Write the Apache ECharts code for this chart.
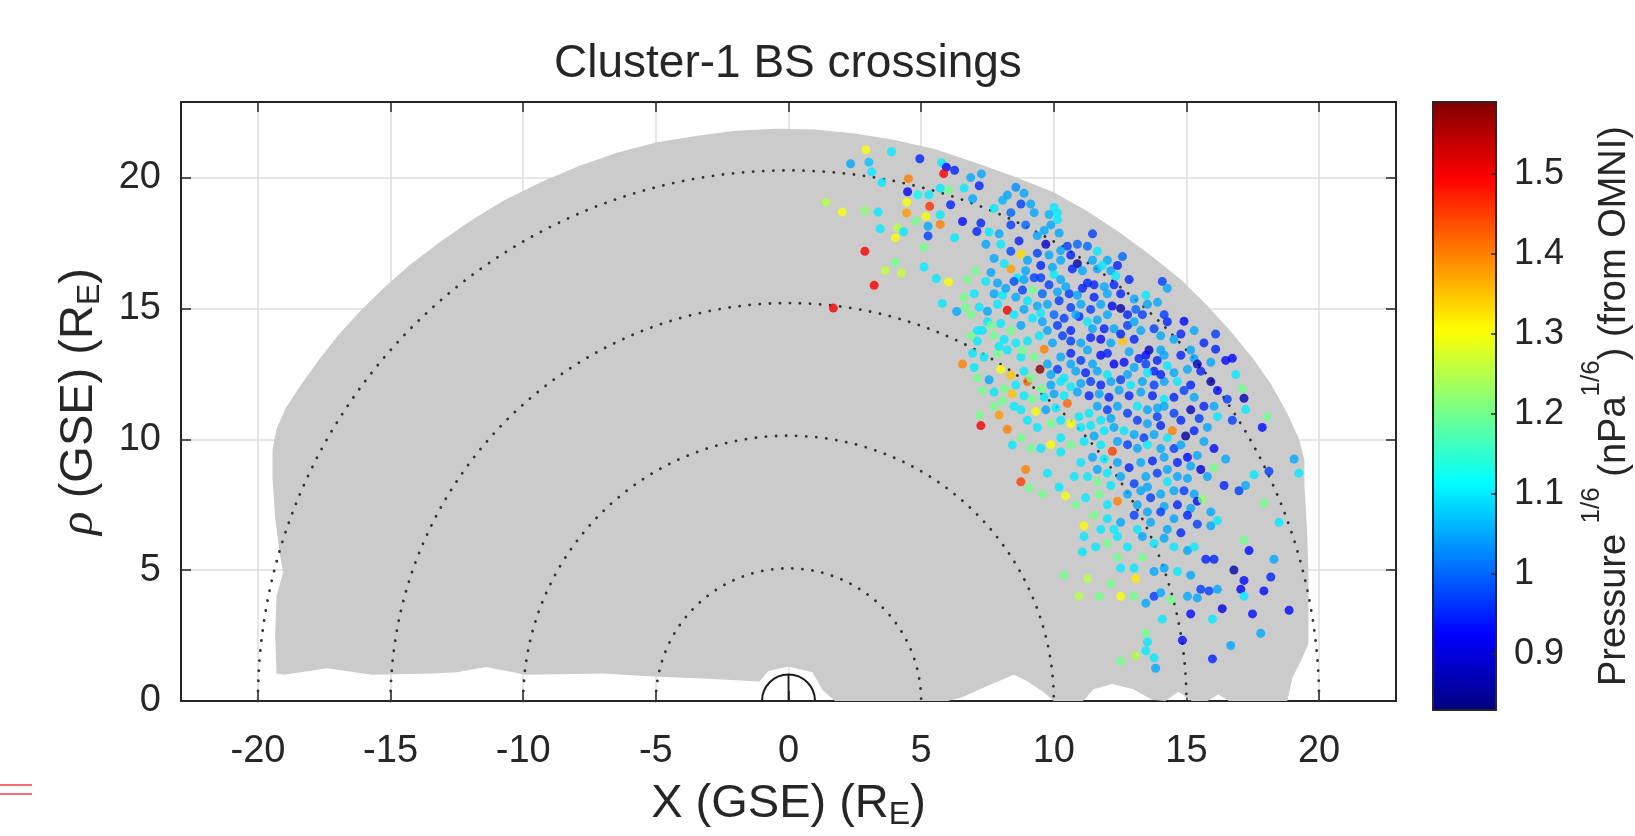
<!DOCTYPE html>
<html lang="en" style="height: 100%">

<head>
  <meta charset="utf-8">
</head>

<body style="height: 100%; margin: 0">
  <div id="container" style="width: 1635px; height: 836px"></div>

  <script type="text/javascript" src="https://fastly.jsdelivr.net/npm/echarts@6.0.0/dist/echarts.min.js"></script>
  <script type="text/javascript">
    // bow shock crossings: [X (RE), rho (RE), pressure^(1/6)]
    var crossings = [
      [2.92,21.07,1.30],[3.88,21.0,1.10],[4.95,20.73,0.95],[2.34,20.54,1.05],[3.03,20.6,1.07],[3.14,20.23,1.10],
      [5.77,20.58,1.10],[5.95,20.41,0.93],[6.26,20.29,0.95],[5.85,20.16,1.50],[4.52,19.97,1.40],[3.52,19.82,1.10],
      [4.49,19.47,0.92],[4.88,19.35,1.12],[5.29,19.35,1.10],[6.03,19.54,1.20],[5.72,19.6,1.10],[1.42,19.07,1.25],
      [2.03,18.69,1.30],[2.88,18.74,1.22],[3.38,18.69,1.10],[4.46,19.07,1.30],[5.32,18.91,1.46],[4.45,18.66,1.38],
      [5.18,18.53,1.30],[5.72,18.59,1.10],[6.11,18.97,0.95],[3.46,18.05,1.10],[4.11,18.09,1.25],[4.03,17.71,1.30],
      [4.34,17.94,1.10],[4.8,18.34,1.20],[5.26,18.15,1.05],[5.26,17.78,0.97],[5.72,18.22,1.40],[6.26,17.71,1.10],
      [5.11,17.34,1.20],[2.88,17.19,1.50],[4.03,16.77,1.20],[3.65,16.46,1.26],[4.26,16.36,1.26],[5.11,16.59,1.10],
      [3.23,15.89,1.50],[5.57,16.15,1.10],[6.03,16.02,1.30],[1.69,15.02,1.50],[5.8,15.2,1.10],[6.34,14.89,1.05],
      [7.27,20.15,1.05],[6.87,20.01,1.05],[7.19,19.70,0.95],[6.62,19.61,1.10],[6.94,19.20,1.05],[6.56,18.33,0.93],
      [8.57,19.64,1.03],[8.88,19.41,1.05],[8.25,19.34,1.05],[8.07,19.14,1.06],[8.76,19.00,0.97],[9.13,19.00,1.05],
      [7.75,18.83,1.10],[8.38,18.67,1.00],[9.26,18.67,1.05],[10.01,18.87,1.10],[10.14,18.67,1.10],[9.82,18.60,1.06],
      [7.25,18.27,0.95],[8.38,18.20,0.97],[8.94,18.20,1.00],[9.89,18.20,1.05],[10.14,18.40,1.10],[7.56,17.93,1.10],
      [7.94,17.86,1.05],[7.10,17.95,0.95],[8.69,17.59,0.95],[9.70,17.46,0.88],[9.38,17.79,1.05],[9.64,17.99,1.05],
      [10.20,17.89,1.05],[11.46,17.86,0.97],[10.51,17.39,0.97],[10.89,17.46,1.00],[11.27,17.39,1.00],[11.64,17.19,1.10],
      [7.44,17.46,1.05],[8.00,17.46,1.10],[8.76,17.08,1.33],[8.38,17.19,0.98],[9.38,17.12,0.97],[9.82,17.05,1.05],
      [12.59,16.99,1.00],[12.02,16.85,1.05],[7.75,16.92,1.05],[7.06,16.45,1.20],[8.38,16.52,1.38],[8.13,16.72,1.10],
      [9.01,16.85,1.05],[10.26,16.85,1.05],[10.89,16.72,0.86],[10.70,16.52,0.95],[11.08,16.45,1.05],[11.64,16.52,1.05],
      [12.15,16.45,1.05],[12.34,16.25,1.10],
      [10.26,17.22,1.05],[10.64,17.05,0.95],[11.46,16.85,1.05],[11.83,16.65,1.10],[12.40,16.65,0.95],[9.51,16.65,0.95],
      [9.95,16.58,1.05],[8.94,16.45,1.05],[8.63,16.18,1.10],[7.63,16.38,1.05],
      [6.75,16.11,1.20],[7.44,16.04,1.10],[7.88,15.98,1.05],[8.50,16.04,0.98],[8.88,16.11,1.05],[9.26,16.18,0.97],
      [9.51,16.18,0.97],[10.01,16.31,1.10],[10.26,16.11,1.05],[11.27,15.98,0.95],[11.52,15.91,0.95],[11.90,15.84,1.05],
      [12.84,16.11,0.95],[14.09,16.04,0.97],[14.28,15.78,1.05],[12.27,15.91,0.95],[13.47,15.51,1.10],[6.62,15.44,1.20],
      [7.00,15.57,1.10],[7.75,15.57,1.05],[8.07,15.51,1.10],[8.57,15.44,1.05],[9.20,15.71,1.20],[9.57,15.57,1.00],
      [10.14,15.64,1.05],[10.58,15.57,0.97],[10.89,15.51,1.05],[11.52,15.44,0.95],[12.02,15.57,1.05],[8.25,14.94,1.50],
      [6.68,15.04,1.20],[7.19,15.06,1.10],[7.50,14.90,1.05],[7.88,15.17,1.10],[9.01,15.30,1.10],[9.38,15.10,1.05],
      [9.76,15.17,1.05],[10.20,15.30,0.97],[10.64,15.04,0.97],[11.02,15.17,1.05],[11.39,14.97,0.97],[11.77,15.17,1.05],
      [12.52,15.01,0.86],[12.20,15.10,0.92],[13.09,14.97,1.00],[13.34,14.77,0.97],[14.91,14.52,0.93],
      [8.19,15.78,1.05],[8.82,15.71,0.97],[9.82,15.91,0.97],[10.45,15.84,1.05],[11.08,15.78,0.95],[12.52,15.57,0.95],
      [13.03,15.37,1.05],[13.91,15.24,1.05],[6.87,14.77,1.20],[8.50,14.77,1.10],[8.88,14.97,1.05],[9.51,14.83,1.10],
      [10.95,14.70,0.95],[12.02,14.77,1.05],[12.78,14.77,0.95],[13.53,15.17,1.05],[14.16,14.77,0.97],
      [7.12,14.16,1.10],[7.50,14.50,1.10],[7.63,14.36,1.20],[8.00,14.43,1.10],[8.38,14.16,1.20],[8.76,14.36,1.05],
      [9.20,14.63,1.10],[9.57,14.50,1.05],[10.01,14.77,1.00],[10.39,14.63,0.97],[10.83,14.77,1.05],[11.27,14.50,1.10],
      [11.64,14.57,1.05],[11.90,14.23,0.95],[12.27,14.23,1.05],[12.78,14.36,0.97],[13.28,14.16,1.05],[13.78,14.23,0.97],
      [7.12,13.76,1.10],[7.75,13.96,1.20],[8.13,13.82,1.10],[8.57,13.69,1.10],[9.01,13.76,1.10],[9.64,13.45,1.40],
      [9.95,13.69,1.05],[10.33,13.96,0.97],[10.64,13.76,0.97],[11.02,13.69,1.05],[11.39,13.89,0.95],[11.77,13.83,0.93],
      [12.15,13.69,1.05],[12.59,13.76,1.35],[13.03,13.83,0.95],[13.59,13.42,0.87],[13.47,13.22,0.93],[14.03,13.42,1.05],
      [14.53,13.83,1.05],[14.79,14.03,0.95],[16.10,14.03,0.97],[16.10,13.45,0.95],[16.48,13.02,0.93],[16.73,13.10,0.93],
      [16.86,12.48,1.10],[15.92,12.95,1.05],[6.56,12.88,1.40],[6.94,13.29,1.10],[7.37,13.15,1.10],[7.88,13.29,1.20],
      [8.25,13.42,1.10],[8.76,13.15,1.10],[9.26,13.15,1.20],
      [6.87,13.96,1.20],[7.31,14.16,1.10],[9.76,14.16,1.05],[10.14,14.36,0.97],[10.64,14.16,0.95],[11.46,14.23,1.05],
      [12.52,14.03,0.95],[13.03,14.50,1.05],[14.03,13.96,1.05],[14.28,14.50,0.95],[15.29,14.16,1.05],[15.66,13.69,0.95],
      [15.16,13.42,1.05],[9.45,13.96,1.10],[7.94,13.56,1.10],[8.82,13.42,1.20],
      [9.48,12.68,1.58],[8.00,12.68,1.30],[8.38,12.45,1.35],[9.01,12.21,1.42],[7.56,12.28,1.05],[7.31,11.87,1.20],
      [7.75,11.81,1.10],[8.13,11.94,1.20],[8.57,12.08,1.10],[9.76,12.88,1.05],[10.14,12.68,0.97],[10.64,12.88,1.05],
      [11.02,13.02,0.97],[11.46,12.88,1.05],[11.77,13.22,0.93],[12.27,12.88,0.92],[12.65,12.95,0.93],[13.03,12.75,1.05],
      [13.47,12.88,0.97],[13.90,13.02,0.95],[14.28,12.82,1.10],[14.53,12.55,1.05],[15.04,12.68,1.05],[15.92,12.21,0.86],
      [16.17,11.87,0.93],[16.54,11.54,0.97],[17.17,11.57,0.87],[17.11,11.94,1.20],[17.23,11.14,1.10],[15.16,12.08,0.95],
      [14.91,11.87,0.97],[14.66,12.21,1.10],[14.16,12.21,1.05],[13.78,12.08,0.97],[13.34,12.21,1.05],[12.90,12.08,1.10],
      [12.52,12.28,0.97],[12.15,12.21,1.05],[11.77,12.08,0.95],[11.39,12.21,0.97],[11.02,12.14,1.05],[10.64,12.01,1.10],
      [10.26,12.21,1.10],[9.89,12.08,1.05],[9.51,11.94,1.20],[9.20,11.54,1.20],[8.88,11.67,1.10],[8.44,11.74,1.35],
      [10.51,11.38,1.42],[10.08,11.20,1.10],[9.70,11.13,1.05],[9.32,11.07,1.30],[8.76,11.13,1.10],
      [10.26,13.15,1.05],[10.64,13.29,0.95],[11.27,13.42,1.05],[12.02,13.29,0.95],[12.84,13.35,1.05],[13.21,13.09,0.95],
      [13.78,12.61,0.95],[14.16,13.22,1.05],[14.79,13.22,0.95],[15.29,13.09,1.05],[15.54,12.61,0.95],[15.41,12.88,0.88],
      [9.89,12.48,1.05],[10.39,12.35,1.10],[10.83,12.61,1.05],[11.20,12.55,0.95],[11.64,12.61,1.05],[12.02,12.48,1.10],
      [12.78,12.48,1.05],[13.53,12.55,1.10],[14.03,12.48,0.95],[8.88,12.61,1.10],[9.13,12.35,1.20],[7.12,12.35,1.20],
      [7.00,12.75,1.10],
      [8.07,11.47,1.20],[8.50,11.27,1.10],[9.64,11.61,1.10],[10.01,11.74,1.05],[10.39,11.67,1.10],[10.89,11.81,1.05],
      [11.33,11.67,0.95],[11.71,11.74,1.05],[12.08,11.61,0.95],[12.46,11.88,1.05],[12.84,11.67,0.95],[13.28,11.81,1.05],
      [13.72,11.67,0.95],[14.16,11.54,1.10],[14.53,11.61,0.95],[15.29,11.61,1.05],[15.66,11.27,0.95],[16.04,11.27,1.05],
      [13.91,11.20,1.05],[13.15,11.27,1.10],[12.15,10.80,1.05],[11.77,10.73,1.10],[11.39,10.53,1.10],[11.02,10.46,1.10],
      [10.26,10.73,1.10],[9.89,10.60,1.20],[9.38,10.46,1.10],[9.01,10.73,1.10],[7.75,11.27,1.20],
      [7.25,10.53,1.50],[7.19,10.93,1.20],[7.94,10.93,1.38],[8.25,10.39,1.40],[8.76,10.06,1.20],[9.51,9.66,1.10],
      [9.89,9.80,1.30],[10.26,10.06,1.10],[10.64,10.60,1.30],[10.95,10.87,1.10],[11.33,11.00,1.10],[11.64,11.27,1.05],
      [12.02,11.13,0.97],[12.40,11.27,1.05],[12.78,11.00,0.97],[13.15,10.73,0.97],[13.53,11.13,1.05],[13.90,10.87,0.97],
      [14.16,11.27,1.05],[14.53,11.00,0.97],[14.79,10.73,0.95],[15.16,11.13,0.88],[15.48,10.80,0.97],[15.79,10.46,1.05],
      [16.17,10.87,1.10],[16.73,10.73,0.97],[17.86,10.46,0.93],[18.05,10.87,1.20],[14.47,10.33,1.40],[14.97,10.13,0.85],
      [14.28,10.06,1.10],[13.78,10.19,1.05],[13.40,10.06,0.97],[13.03,10.19,1.05],[12.65,10.33,1.10],[12.27,10.46,1.05],
      [11.90,10.33,1.10],[11.52,10.13,1.05],[11.14,9.92,1.10],[10.64,9.80,1.20],[12.21,9.55,1.45],[12.78,9.80,0.97],
      [13.53,9.80,1.10],[14.03,9.65,1.05],[14.53,9.65,0.97],[15.04,9.32,0.93],[15.41,9.39,1.05],[16.04,9.65,0.93],
      [16.48,9.25,1.05],[19.06,9.25,1.05],[19.24,8.71,1.10],
      [13.53,10.60,1.05],[14.03,10.53,0.95],[15.29,10.33,0.95],[15.66,9.92,1.05],[14.79,9.79,1.05],[13.15,9.66,1.05],
      [12.40,9.92,1.05],[11.77,9.79,1.10],[10.26,9.52,1.10],[9.13,9.66,1.20],[8.44,9.79,1.10],
      [8.94,8.85,1.40],[8.76,8.38,1.45],[9.07,8.15,1.20],[10.20,8.18,1.10],[10.45,7.84,1.30],[10.77,8.58,1.10],
      [11.27,8.58,1.10],[11.64,8.85,1.05],[12.02,8.71,1.10],[12.52,8.58,1.05],[13.03,8.31,0.97],[13.47,8.58,1.05],
      [13.90,8.71,0.97],[14.28,8.85,1.05],[14.66,8.58,1.05],[15.16,8.98,1.05],[15.54,8.85,0.90],[15.79,8.58,1.05],
      [16.04,8.92,1.20],[16.42,8.24,0.95],[16.98,8.04,0.97],[17.23,8.24,1.05],[17.55,8.65,1.10],[18.11,8.78,0.97],
      [17.93,7.57,1.20],[18.49,6.83,1.10],[10.83,7.50,1.20],[11.20,7.77,1.10],[11.71,7.91,1.20],[12.40,7.64,1.40],
      [12.78,7.91,1.05],[13.28,8.04,1.05],[13.65,7.77,0.97],[14.03,7.91,1.05],[14.53,8.04,1.05],[14.91,8.04,0.97],
      [15.29,7.91,1.05],[15.41,7.64,0.93],[15.60,7.71,1.22],
      [11.02,9.12,1.10],[11.46,9.32,1.05],[11.90,9.25,1.10],[12.40,9.12,1.05],[12.84,8.92,0.95],[13.28,9.12,1.05],
      [13.72,9.18,0.95],[14.16,9.32,1.05],[14.66,9.12,0.95],[15.04,8.51,1.05],[14.28,8.38,1.10],[13.53,8.18,1.05],
      [12.15,8.24,1.10],[11.64,8.38,1.20],[9.76,8.71,1.10],[9.57,7.91,1.20],
      [12.02,7.50,1.10],[13.15,7.50,1.05],[14.16,7.44,1.05],[14.66,7.50,0.95],[15.16,7.37,1.05],[15.92,7.23,1.05],
      [13.65,6.83,1.05],[12.27,6.56,1.10],[11.77,6.56,1.10],[13.15,6.56,1.10],[14.28,6.56,1.05],[14.79,6.43,0.95],
      [11.14,6.70,1.30],[11.14,6.29,1.10],[11.52,7.10,1.20],[12.02,6.97,1.10],[12.52,6.83,1.05],[13.03,7.10,0.97],
      [13.53,7.23,1.05],[14.03,7.23,0.97],[14.53,6.97,1.05],[15.04,7.10,0.95],[15.41,6.76,0.97],[15.92,6.70,1.05],
      [16.17,6.90,1.10],[17.17,6.16,1.20],[17.36,5.75,0.93],[18.30,5.42,1.05],[11.58,5.89,1.10],[12.02,6.02,1.20],
      [12.40,6.29,1.10],[12.78,5.89,1.10],[13.34,6.29,1.05],[13.78,6.02,1.10],[14.16,6.22,1.05],[14.53,5.89,1.10],
      [15.04,5.75,1.05],[15.29,5.89,1.10],[15.73,5.42,0.95],[16.04,5.42,0.95],[11.08,5.70,1.10],
      [10.39,4.81,1.20],[11.27,4.68,1.25],[12.40,5.50,1.20],[12.52,5.08,1.10],[13.03,5.08,1.10],[13.09,4.68,1.32],
      [13.34,5.50,1.20],[13.78,4.95,1.05],[14.16,5.08,1.05],[14.66,4.95,1.10],[15.16,4.81,1.05],[15.54,4.27,0.97],
      [15.85,4.21,0.97],[16.17,4.27,1.05],[16.79,5.01,0.86],[17.17,4.61,0.93],[17.05,4.27,0.92],[17.17,4.00,1.10],
      [17.92,4.21,0.93],[18.18,4.74,0.95],[10.95,4.00,1.25],[11.71,4.00,1.20],[12.15,4.48,1.20],[12.52,4.00,1.30],
      [13.03,4.00,1.20],[13.47,3.74,1.05],[13.78,4.00,0.97],[14.03,4.14,1.05],[14.41,3.87,1.20],[15.04,4.00,1.05],
      [15.41,3.94,1.05],[15.16,3.33,0.93],[16.35,3.53,0.90],[15.98,3.13,1.10],[17.49,3.33,0.93],[18.87,3.47,0.93],
      [14.09,3.13,1.10],
      [17.80,2.59,1.05],[16.67,2.12,1.05],[13.47,2.59,1.20],[13.53,2.26,1.10],[13.47,1.92,1.10],[14.85,2.32,0.93],
      [12.52,1.52,1.20],[13.09,1.72,1.25],[13.78,1.65,1.10],[13.84,1.25,1.05],[15.98,1.61,0.95]
    ];

    // outline of the grey orbit coverage, [X, rho]
    var coverage = [
      [-19.3,1.05],[-19.35,2.5],[-19.3,4.0],[-19.05,4.9],[-19.2,5.8],[-19.35,7.0],[-19.45,8.5],[-19.45,9.6],
      [-19.3,10.4],[-18.95,11.2],[-18.4,12.05],[-17.7,13.05],[-17.0,13.95],[-16.2,14.85],[-15.3,15.75],
      [-14.3,16.65],[-13.2,17.5],[-12.0,18.35],[-10.7,19.15],[-9.3,19.85],[-7.9,20.45],[-6.5,20.95],[-5.0,21.35],
      [-3.5,21.6],[-2.0,21.8],[-0.5,21.88],[1.0,21.85],[2.5,21.7],[4.0,21.45],[5.5,21.1],[7.0,20.6],[8.5,20.05],
      [10.0,19.45],[11.3,18.7],[12.5,17.9],[13.7,17.0],[14.8,16.1],[15.8,15.1],[16.7,14.1],[17.5,13.1],
      [18.2,12.1],[18.8,11.0],[19.25,10.0],[19.45,9.2],[19.45,8.2],[19.55,6.5],[19.6,4.9],[19.6,2.2],
      [19.3,1.5],[19.0,0.9],[18.8,0.0],[16.6,0.0],[16.2,0.25],[15.8,0.0],[15.2,0.0],[14.7,0.35],[14.2,0.0],
      [13.7,0.05],[13.0,0.45],[12.2,0.65],[11.5,0.45],[11.1,0.0],[10.0,0.0],[9.6,0.35],[8.95,0.78],[8.5,1.0],
      [7.6,0.62],[6.5,0.12],[6.0,0.0],[1.75,0.0],[1.3,0.4],[0.9,1.1],[0.0,1.32],[-0.75,1.15],[-1.1,0.75],
      [-3.0,0.85],[-4.9,0.93],[-7.0,1.05],[-9.9,1.0],[-11.4,1.3],[-12.5,1.1],[-13.5,1.05],[-15.7,1.0],
      [-17.4,1.25],[-19.0,1.0]
    ];

    var arcRadii = [5, 10, 15, 20];
    var earthRadius = [1];
    var xRange = [-22.9, 22.9];
    var yRange = [0, 22.9];
    var pressureRange = [0.83, 1.59];

    var FONT = "'Liberation Sans', Arial, sans-serif";
    var INK = '#262626';
    var jet = ['#000080', '#0000ff', '#0080ff', '#00ffff', '#80ff80', '#ffff00', '#ff8000', '#ff0000', '#800000'];

    var dom = document.getElementById('container');
    var myChart = echarts.init(dom, null, {
      renderer: 'canvas',
      useDirtyRect: false
    });

    function fifth(v) {
      return Math.abs(v / 5 - Math.round(v / 5)) < 1e-6 ? String(Math.round(v)) : '';
    }
    function tenth(v) {
      return Math.abs(v * 10 - Math.round(v * 10)) < 1e-6 ? String(Math.round(v * 10) / 10) : '';
    }

    function renderCoverage(params, api) {
      if (params.dataIndex !== 0) return;
      var pts = coverage.map(function (p) { return api.coord(p); });
      return {
        type: 'polygon',
        shape: { points: pts },
        style: { fill: '#cbcbcb', stroke: 'none' }
      };
    }

    function renderArc(params, api) {
      var c = api.coord([0, 0]);
      var r = api.size([api.value(0), 0])[0];
      return {
        type: 'arc',
        shape: { cx: c[0], cy: c[1], r: r, startAngle: Math.PI, endAngle: 2 * Math.PI, clockwise: true },
        style: { fill: 'none', stroke: '#333', lineWidth: 2.8, lineDash: [0.1, 10], lineCap: 'round' }
      };
    }

    function renderEarth(params, api) {
      var c = api.coord([0, 0]);
      var top = api.coord([0, api.value(0)]);
      var r = api.size([api.value(0), 0])[0];
      return {
        type: 'group',
        children: [
          {
            type: 'arc',
            shape: { cx: c[0], cy: c[1], r: r, startAngle: Math.PI, endAngle: 2 * Math.PI, clockwise: true },
            style: { fill: 'none', stroke: '#1a1a1a', lineWidth: 2 }
          },
          {
            type: 'line',
            shape: { x1: c[0], y1: c[1], x2: top[0], y2: top[1] },
            style: { stroke: '#1a1a1a', lineWidth: 1.8 }
          }
        ]
      };
    }

    var boxLine = { onZero: false, lineStyle: { color: INK, width: 2 } };
    var inTick = { inside: true, length: 10, lineStyle: { color: INK, width: 1.5 } };
    var gridLine = { show: true, lineStyle: { color: '#dedede', width: 1.5 } };

    var option = {
      animation: false,
      textStyle: { fontFamily: FONT },
      title: {
        text: 'Cluster-1 BS crossings',
        left: 554,
        top: 41,
        padding: 0,
        textStyle: { fontSize: 46, fontWeight: 'normal', color: INK, fontFamily: FONT, lineHeight: 46 }
      },
      grid: [
        { left: 181, top: 102, width: 1215, height: 608 },
        { left: 1433, top: 102, width: 64, height: 608 }
      ],
      xAxis: [
        {
          type: 'value', gridIndex: 0, position: 'bottom',
          min: xRange[0], max: xRange[1], splitNumber: 9, minInterval: 5, maxInterval: 5,
          axisLine: boxLine, axisTick: inTick, splitLine: gridLine,
          axisLabel: { fontSize: 38, color: INK, margin: 32, fontFamily: FONT, formatter: fifth },
          name: '{n|X (GSE) (R}{s|E}{n|)}',
          nameLocation: 'middle',
          nameGap: 76,
          nameTextStyle: {
            rich: {
              n: { fontSize: 47, lineHeight: 54, color: INK, fontFamily: FONT },
              s: { fontSize: 32, lineHeight: 20, verticalAlign: 'bottom', color: INK, fontFamily: FONT }
            }
          }
        },
        {
          type: 'value', gridIndex: 0, position: 'top',
          min: xRange[0], max: xRange[1], splitNumber: 9, minInterval: 5, maxInterval: 5,
          axisLine: boxLine, axisTick: inTick, axisLabel: { show: false }, splitLine: { show: false }
        },
        {
          type: 'value', gridIndex: 1, position: 'bottom', min: 0, max: 1, z: 10,
          axisLine: boxLine, axisTick: { show: false }, axisLabel: { show: false }, splitLine: { show: false }
        },
        {
          type: 'value', gridIndex: 1, position: 'top', min: 0, max: 1, z: 10,
          axisLine: boxLine, axisTick: { show: false }, axisLabel: { show: false }, splitLine: { show: false }
        }
      ],
      yAxis: [
        {
          type: 'value', gridIndex: 0, position: 'left',
          min: yRange[0], max: yRange[1], splitNumber: 5, minInterval: 5, maxInterval: 5,
          axisLine: boxLine, axisTick: inTick, splitLine: gridLine,
          axisLabel: { fontSize: 38, color: INK, margin: 20, fontFamily: FONT, formatter: fifth },
          name: '{i|ρ}{n| (GSE) (R}{s|E}{n|)}',
          nameLocation: 'middle',
          nameGap: 75,
          nameTextStyle: {
            rich: {
              i: { fontSize: 49, lineHeight: 54, fontStyle: 'italic', color: INK, fontFamily: "'Liberation Serif', serif" },
              n: { fontSize: 47, lineHeight: 54, color: INK, fontFamily: FONT },
              s: { fontSize: 32, lineHeight: 20, verticalAlign: 'bottom', color: INK, fontFamily: FONT }
            }
          }
        },
        {
          type: 'value', gridIndex: 0, position: 'right',
          min: yRange[0], max: yRange[1], splitNumber: 5, minInterval: 5, maxInterval: 5,
          axisLine: boxLine, axisTick: inTick, axisLabel: { show: false }, splitLine: { show: false }
        },
        {
          type: 'value', gridIndex: 1, position: 'left', z: 10,
          min: pressureRange[0], max: pressureRange[1],
          axisLine: boxLine, axisTick: { show: false }, axisLabel: { show: false }, splitLine: { show: false }
        },
        {
          type: 'value', gridIndex: 1, position: 'right', z: 10,
          min: pressureRange[0], max: pressureRange[1], splitNumber: 7, minInterval: 0.1, maxInterval: 0.1,
          axisLine: boxLine,
          axisTick: { inside: true, length: 5, lineStyle: { color: INK, width: 1.5 } },
          axisLabel: { fontSize: 36, color: INK, margin: 18, fontFamily: FONT, formatter: tenth },
          splitLine: { show: false },
          name: '{n|Pressure }{p|1/6}{n| (nPa}{p|1/6}{n|) (from OMNI)}',
          nameLocation: 'middle',
          nameGap: 83,
          nameTextStyle: {
            rich: {
              n: { fontSize: 38, lineHeight: 72, color: INK, fontFamily: FONT },
              p: { fontSize: 26, lineHeight: 10, verticalAlign: 'top', color: INK, fontFamily: FONT }
            }
          }
        }
      ],
      visualMap: {
        type: 'continuous',
        seriesIndex: 3,
        dimension: 2,
        min: pressureRange[0],
        max: pressureRange[1],
        orient: 'vertical',
        left: 1433,
        top: 102,
        itemWidth: 64,
        itemHeight: 608,
        padding: 0,
        calculable: false,
        hoverLink: false,
        text: null,
        inRange: { color: jet }
      },
      graphic: [
        { type: 'line', shape: { x1: 0, y1: 785, x2: 32, y2: 785 }, style: { stroke: '#f04040', lineWidth: 1.5 } },
        { type: 'line', shape: { x1: 0, y1: 794, x2: 32, y2: 794 }, style: { stroke: '#f04040', lineWidth: 1.5 } }
      ],
      series: [
        {
          name: 'coverage',
          type: 'custom',
          silent: true,
          z: 1,
          renderItem: renderCoverage,
          data: coverage
        },
        {
          name: 'circles',
          type: 'custom',
          silent: true,
          z: 2,
          renderItem: renderArc,
          data: arcRadii.map(function (r) { return [r, 0]; })
        },
        {
          name: 'earth',
          type: 'custom',
          silent: true,
          z: 2,
          renderItem: renderEarth,
          data: earthRadius.map(function (r) { return [r, 0]; })
        },
        {
          name: 'BS crossings',
          type: 'scatter',
          z: 3,
          symbolSize: 9,
          data: crossings
        }
      ]
    };

    if (option && typeof option === 'object') {
      myChart.setOption(option);
    }

    window.addEventListener('resize', myChart.resize);
  </script>
</body>

</html>
